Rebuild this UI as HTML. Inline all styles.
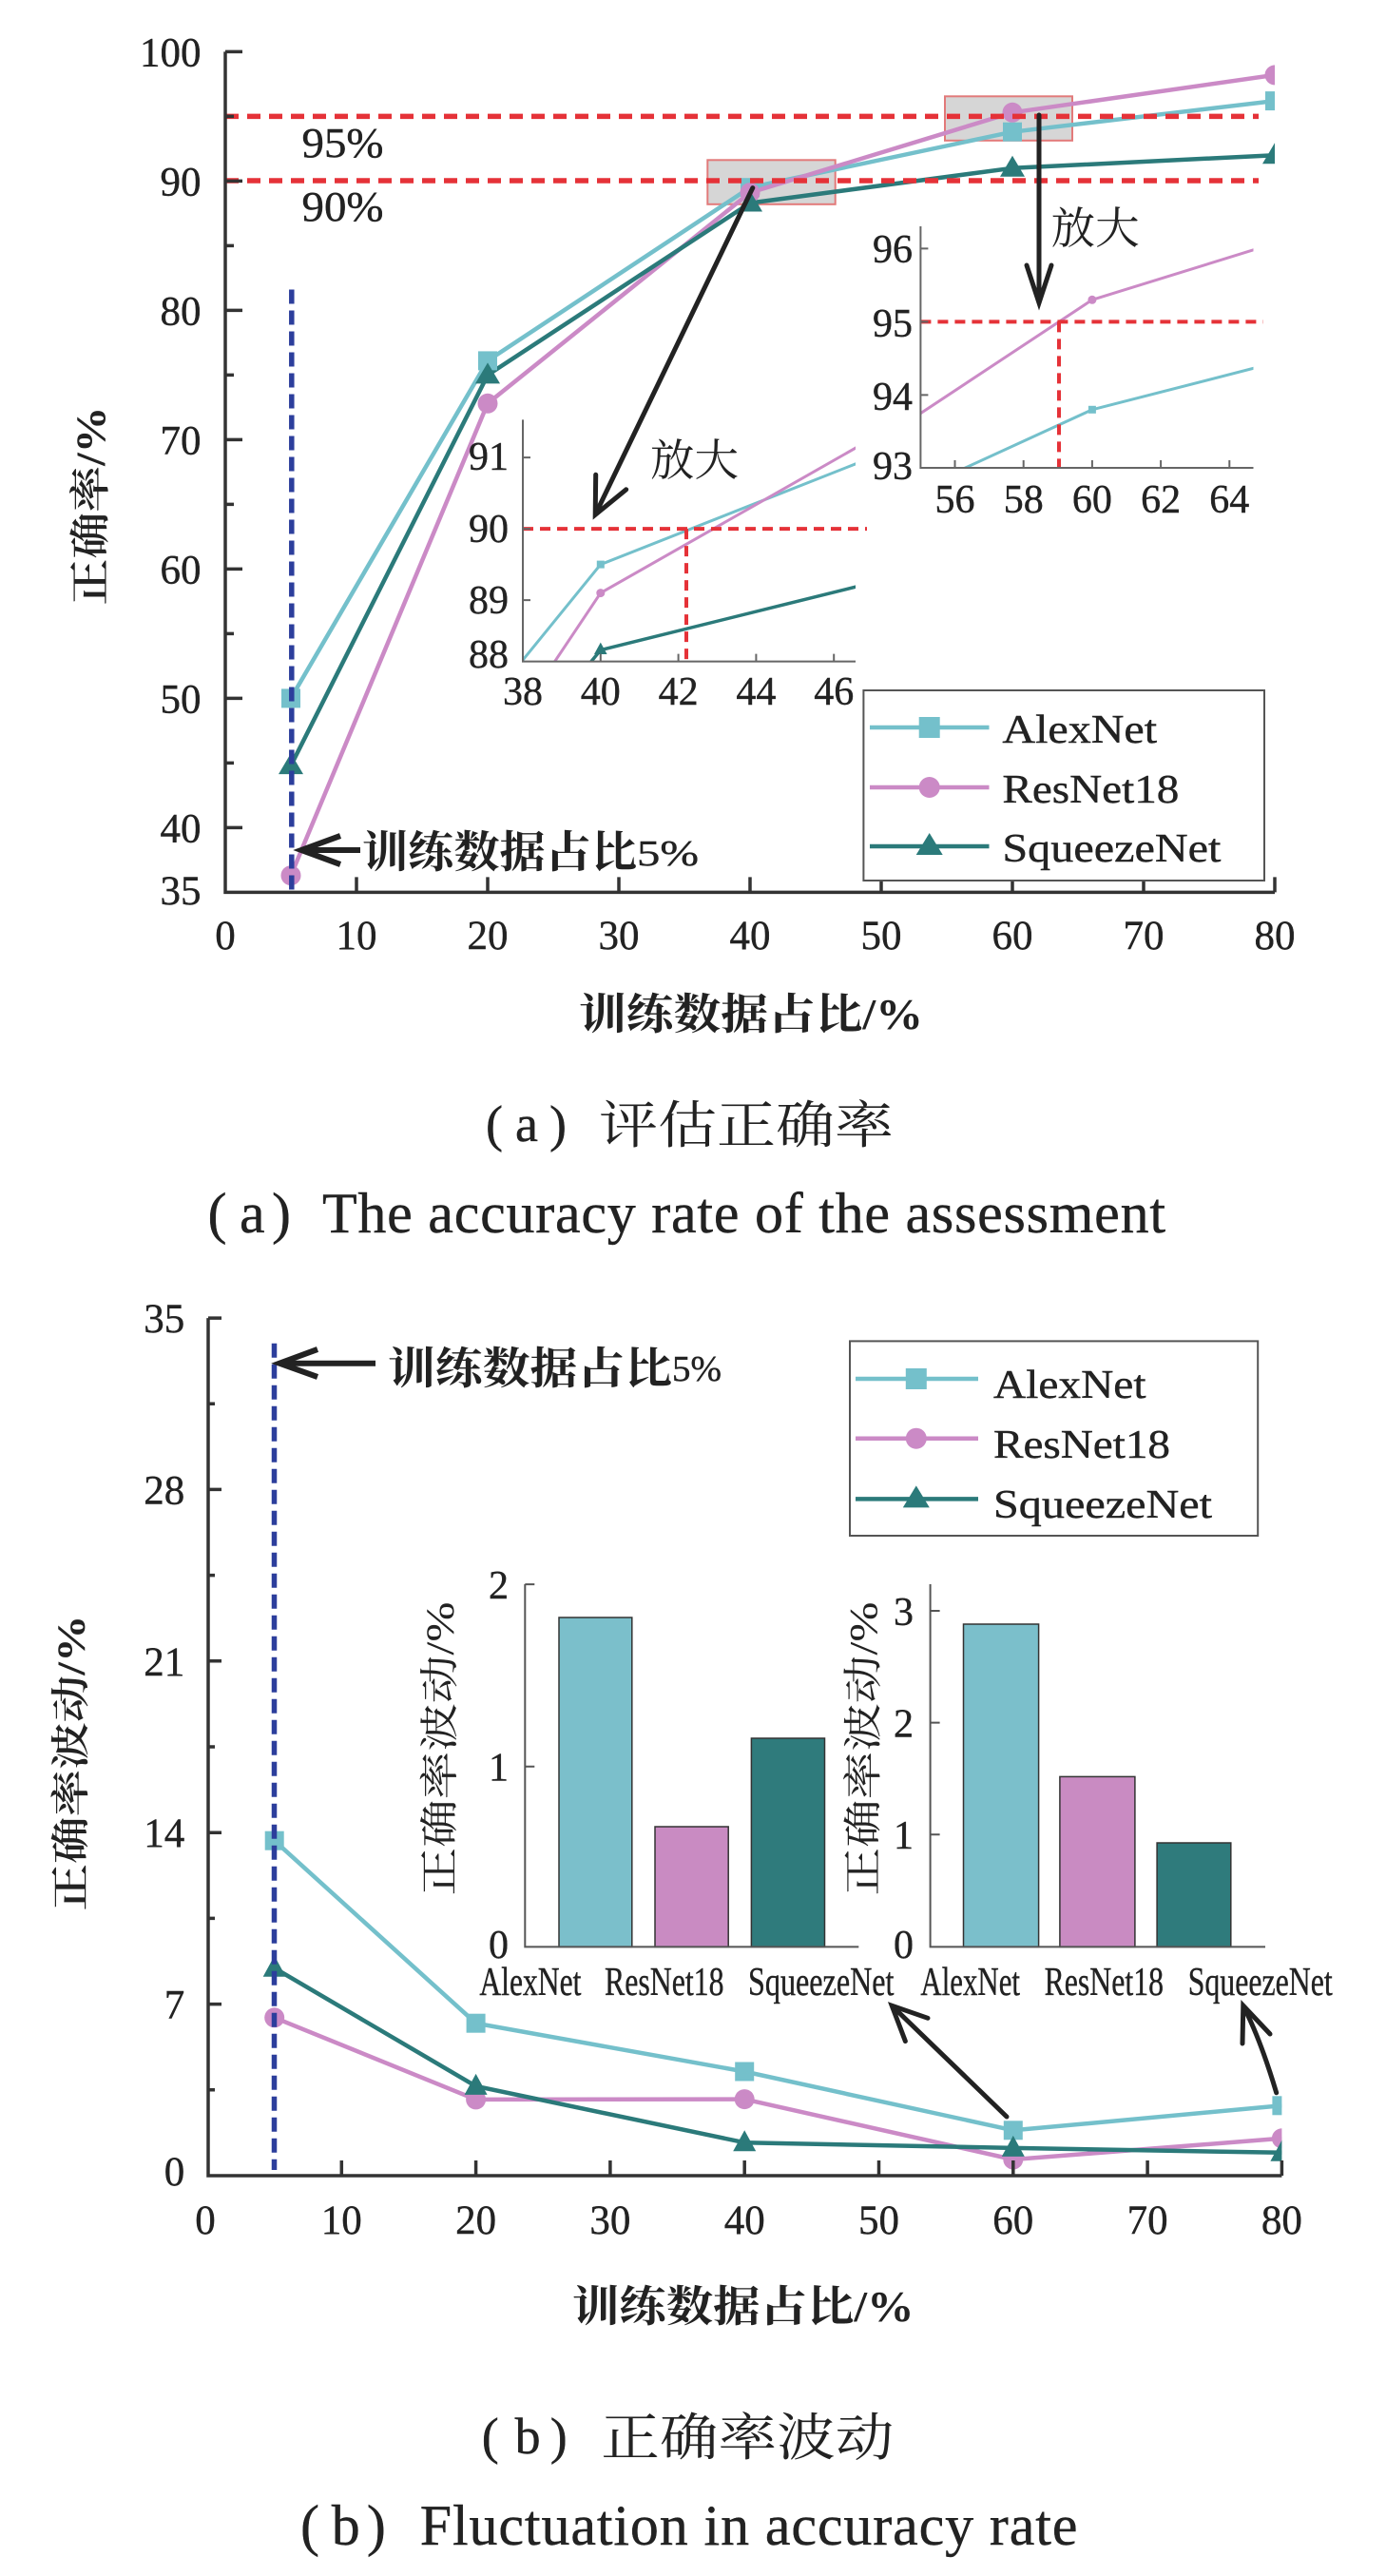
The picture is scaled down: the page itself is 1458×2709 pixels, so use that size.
<!DOCTYPE html>
<html><head><meta charset="utf-8">
<style>
html,body{margin:0;padding:0;background:#fff}
svg{display:block}
.n{font-family:"Liberation Serif",serif;font-size:42px;fill:#222;stroke:#222;stroke-width:0.4}
.cj{font-family:"Liberation Serif","Noto Serif CJK SC",serif;fill:#222}
.bd{font-weight:700}
.mid{text-anchor:middle}
.end{text-anchor:end}
.tk{font-size:43px}
</style></head>
<body>
<svg width="1458" height="2709" viewBox="0 0 1458 2709" xmlns="http://www.w3.org/2000/svg">
<defs>
  <clipPath id="clipA"><rect x="230" y="40" width="1111" height="905"/></clipPath>
  <clipPath id="clipIA"><rect x="550" y="441.4" width="350" height="254.2"/></clipPath>
  <clipPath id="clipIB"><rect x="968.4" y="238" width="350.1" height="254"/></clipPath>
  <clipPath id="clipB"><rect x="210" y="1370" width="1138.4" height="925"/></clipPath>
</defs>
<rect width="1458" height="2709" fill="#fff"/>

<!-- ================= CHART A ================= -->
<rect x="744.3" y="168.3" width="134.4" height="46.5" fill="#d6d6d6" stroke="#e27a7a" stroke-width="2"/>
<rect x="994" y="101.3" width="134" height="46.5" fill="#d6d6d6" stroke="#e27a7a" stroke-width="2"/>

<g clip-path="url(#clipA)" stroke-linejoin="round">
  <polyline fill="none" stroke="#74c0cb" stroke-width="4.5" points="306,734.4 513,379.4 789,197.2 1065,138.7 1341,106.1"/>
  <polyline fill="none" stroke="#cb8ac6" stroke-width="4.5" points="306,920.7 513,424.3 789,202.6 1065,118.3 1341,78.9"/>
  <polyline fill="none" stroke="#2b7a7a" stroke-width="4.5" points="306,805.1 513,394.4 789,213.5 1065,176.8 1341,163.2"/>
  <g fill="#74c0cb">
    <rect x="296" y="724.4" width="20" height="20"/>
    <rect x="503" y="369.4" width="20" height="20"/>
    <rect x="779" y="187.2" width="20" height="20"/>
    <rect x="1055" y="128.7" width="20" height="20"/>
    <rect x="1331" y="96.1" width="20" height="20"/>
  </g>
  <g fill="#cb8ac6">
    <circle cx="306" cy="920.7" r="10.5"/>
    <circle cx="513" cy="424.3" r="10.5"/>
    <circle cx="789" cy="202.6" r="10.5"/>
    <circle cx="1065" cy="118.3" r="10.5"/>
    <circle cx="1341" cy="78.9" r="10.5"/>
  </g>
  <g fill="#2b7a7a">
    <polygon points="306,792.1 293,814.1 319,814.1"/>
    <polygon points="513,381.4 500,403.4 526,403.4"/>
    <polygon points="789,200.5 776,222.5 802,222.5"/>
    <polygon points="1065,163.8 1052,185.8 1078,185.8"/>
    <polygon points="1341,150.2 1328,172.2 1354,172.2"/>
  </g>
</g>

<line x1="237" y1="122.4" x2="1324" y2="122.4" stroke="#e53238" stroke-width="5.5" stroke-dasharray="14 9"/>
<line x1="237" y1="190" x2="1324" y2="190" stroke="#e53238" stroke-width="5.5" stroke-dasharray="14 9"/>
<text class="n" x="317.5" y="165" textLength="86" lengthAdjust="spacingAndGlyphs" style="font-size:44px">95%</text>
<text class="n" x="317.5" y="232" textLength="86" lengthAdjust="spacingAndGlyphs" style="font-size:44px">90%</text>

<line x1="306.8" y1="304.5" x2="306.8" y2="938" stroke="#2c3e9c" stroke-width="5.5" stroke-dasharray="15 7"/>

<path d="M237,54.4 V938.4 H1341" fill="none" stroke="#333" stroke-width="3.5"/>
<path d="M237,54.4 h18 M237,190.4 h18 M237,326.4 h18 M237,462.4 h18 M237,598.4 h18 M237,734.4 h18 M237,870.4 h18
 M237,122.4 h9 M237,258.4 h9 M237,394.4 h9 M237,530.4 h9 M237,666.4 h9 M237,802.4 h9
 M375,938.4 v-16 M513,938.4 v-16 M651,938.4 v-16 M789,938.4 v-16 M927,938.4 v-16 M1065,938.4 v-16 M1203,938.4 v-16 M1341,938.4 v-16" stroke="#333" stroke-width="3.5" fill="none"/>
<g class="n end tk">
  <text x="211.5" y="69.4">100</text>
  <text x="211.5" y="205.4">90</text>
  <text x="211.5" y="341.4">80</text>
  <text x="211.5" y="477.4">70</text>
  <text x="211.5" y="613.4">60</text>
  <text x="211.5" y="749.4">50</text>
  <text x="211.5" y="885.4">40</text>
  <text x="211.5" y="951">35</text>
</g>
<g class="n mid tk">
  <text x="237" y="998">0</text>
  <text x="375" y="998">10</text>
  <text x="513" y="998">20</text>
  <text x="651" y="998">30</text>
  <text x="789" y="998">40</text>
  <text x="927" y="998">50</text>
  <text x="1065" y="998">60</text>
  <text x="1203" y="998">70</text>
  <text x="1341" y="998">80</text>
</g>
<text class="cj bd" x="609" y="1082" textLength="362" lengthAdjust="spacingAndGlyphs" style="font-size:45px">训练数据占比/%</text>
<text class="cj mid" transform="translate(95,532) rotate(-90)" x="0" y="15" textLength="209" lengthAdjust="spacingAndGlyphs" style="font-size:43px;font-weight:600">正确率/%</text>

<!-- Inset A -->
<g clip-path="url(#clipIA)" fill="none" stroke-linejoin="round">
  <polyline stroke="#74c0cb" stroke-width="3" points="-186.2,1598.6 631.8,593.6 1449.8,271.1"/>
  <polyline stroke="#cb8ac6" stroke-width="3" points="-186.2,1846.1 631.8,623.6 1449.8,158.6"/>
  <polyline stroke="#2b7a7a" stroke-width="3.5" points="-186.2,1681.1 631.8,683.6 1449.8,481.1"/>
</g>
<rect x="627.8" y="589.6" width="8" height="8" fill="#74c0cb"/>
<circle cx="631.8" cy="623.6" r="4.5" fill="#cb8ac6"/>
<polygon points="631.8,675.6 625,688 638.6,688" fill="#2b7a7a"/>
<line x1="550" y1="556.1" x2="912" y2="556.1" stroke="#e53238" stroke-width="4" stroke-dasharray="11 7"/>
<line x1="722" y1="556.1" x2="722" y2="695" stroke="#e53238" stroke-width="4" stroke-dasharray="11 7"/>
<path d="M550,441.4 V695.6 H900 M550,481.1 h8 M550,556.1 h8 M550,631.1 h8 M631.8,695.6 v-8 M713.6,695.6 v-8 M795.4,695.6 v-8 M877.2,695.6 v-8" fill="none" stroke="#666" stroke-width="2"/>
<g class="n end">
  <text x="535" y="494">91</text>
  <text x="535" y="570">90</text>
  <text x="535" y="645">89</text>
  <text x="535" y="702">88</text>
</g>
<g class="n mid">
  <text x="550" y="741">38</text>
  <text x="631.8" y="741">40</text>
  <text x="713.6" y="741">42</text>
  <text x="795.4" y="741">44</text>
  <text x="877.2" y="741">46</text>
</g>
<text class="cj" x="684" y="500" textLength="93" lengthAdjust="spacingAndGlyphs" style="font-size:46px">放大</text>

<!-- Inset B -->
<g clip-path="url(#clipIB)" fill="none" stroke-linejoin="round">
  <polyline stroke="#cb8ac6" stroke-width="3" points="426.9,792.7 1148.9,315.3 1870.4,92"/>
  <polyline stroke="#74c0cb" stroke-width="3" points="426.9,761.9 1148.9,430.8 1870.4,246"/>
</g>
<circle cx="1148.9" cy="315.3" r="4.5" fill="#cb8ac6"/>
<rect x="1144.9" y="426.8" width="8" height="8" fill="#74c0cb"/>
<line x1="968.4" y1="338.4" x2="1328.7" y2="338.4" stroke="#e53238" stroke-width="4" stroke-dasharray="11 7"/>
<line x1="1114" y1="338.4" x2="1114" y2="492" stroke="#e53238" stroke-width="4" stroke-dasharray="11 7"/>
<path d="M968.4,238 V492 H1318.5 M968.4,261.4 h8 M968.4,338.4 h8 M968.4,415.4 h8 M1004.5,492 v-8 M1076.7,492 v-8 M1148.9,492 v-8 M1221.1,492 v-8 M1293.3,492 v-8" fill="none" stroke="#666" stroke-width="2"/>
<g class="n end">
  <text x="960" y="276">96</text>
  <text x="960" y="354">95</text>
  <text x="960" y="431">94</text>
  <text x="960" y="504">93</text>
</g>
<g class="n mid">
  <text x="1004.5" y="539">56</text>
  <text x="1076.7" y="539">58</text>
  <text x="1148.9" y="539">60</text>
  <text x="1221.1" y="539">62</text>
  <text x="1293.3" y="539">64</text>
</g>
<text class="cj" x="1105.6" y="256" textLength="93" lengthAdjust="spacingAndGlyphs" style="font-size:46px">放大</text>

<!-- arrows A -->
<g stroke="#222" fill="none" stroke-width="5" stroke-linecap="round" stroke-linejoin="miter">
  <line x1="791.8" y1="197.6" x2="627" y2="539.5"/>
  <polyline points="658.7,514.8 626.2,541.3 626.7,499.3"/>
  <line x1="1093" y1="121" x2="1093" y2="315"/>
  <polyline points="1080,279 1093,318.5 1106,279"/>
</g>
<g stroke="#222" fill="none" stroke-width="6" stroke-linecap="butt">
  <line x1="318" y1="894" x2="379" y2="894"/>
  <polyline points="358,879 317,894 358,909"/>
</g>
<text class="cj bd" x="381" y="912" textLength="289" lengthAdjust="spacingAndGlyphs" style="font-size:46px">训练数据占比</text>
<text class="n" x="670" y="910" textLength="65" lengthAdjust="spacingAndGlyphs" style="font-size:38px">5%</text>

<!-- legend A -->
<rect x="908.4" y="726" width="421.6" height="200" fill="#fff" stroke="#555" stroke-width="2"/>
<line x1="915" y1="765" x2="1040.5" y2="765" stroke="#74c0cb" stroke-width="4.5"/>
<rect x="966.7" y="754" width="22" height="22" fill="#74c0cb"/>
<line x1="915" y1="828" x2="1040.5" y2="828" stroke="#cb8ac6" stroke-width="4.5"/>
<circle cx="977.7" cy="828" r="11" fill="#cb8ac6"/>
<line x1="915" y1="890" x2="1040.5" y2="890" stroke="#2b7a7a" stroke-width="4.5"/>
<polygon points="977.7,876 963.7,899 991.7,899" fill="#2b7a7a"/>
<text class="n" x="1054.4" y="781" textLength="162.7" lengthAdjust="spacingAndGlyphs">AlexNet</text>
<text class="n" x="1054.4" y="844" textLength="186" lengthAdjust="spacingAndGlyphs">ResNet18</text>
<text class="n" x="1054.4" y="906" textLength="230" lengthAdjust="spacingAndGlyphs">SqueezeNet</text>

<!-- captions A -->
<text class="n" x="511" y="1200" style="font-size:54px">(</text>
<text class="n" x="542" y="1200" style="font-size:54px">a</text>
<text class="n" x="578" y="1200" style="font-size:54px">)</text>
<text class="cj" x="630" y="1202" textLength="310" lengthAdjust="spacingAndGlyphs" style="font-size:54px">评估正确率</text>
<text class="n" x="218.5" y="1296" style="font-size:60px">(</text>
<text class="n" x="252" y="1296" style="font-size:60px">a</text>
<text class="n" x="286" y="1296" style="font-size:60px">)</text>
<text class="n" x="339" y="1296" textLength="887" lengthAdjust="spacing" style="font-size:60px">The accuracy rate of the assessment</text>

<!-- ================= CHART B ================= -->
<g clip-path="url(#clipB)" stroke-linejoin="round">
  <polyline fill="none" stroke="#74c0cb" stroke-width="4.5" points="288.7,1935.7 500.6,2127.7 783.2,2178.5 1065.8,2240.3 1348.4,2214.3"/>
  <polyline fill="none" stroke="#cb8ac6" stroke-width="4.5" points="288.7,2121.8 500.6,2207.9 783.2,2207.6 1065.8,2271 1348.4,2248.8"/>
  <polyline fill="none" stroke="#2b7a7a" stroke-width="4.5" points="288.7,2069.7 500.6,2193.9 783.2,2253.2 1065.8,2258.9 1348.4,2263.8"/>
  <g fill="#74c0cb">
    <rect x="278.7" y="1925.7" width="20" height="20"/>
    <rect x="490.6" y="2117.7" width="20" height="20"/>
    <rect x="773.2" y="2168.5" width="20" height="20"/>
    <rect x="1055.8" y="2230.3" width="20" height="20"/>
    <rect x="1338.4" y="2204.3" width="20" height="20"/>
  </g>
  <g fill="#cb8ac6">
    <circle cx="288.7" cy="2121.8" r="10.5"/>
    <circle cx="500.6" cy="2207.9" r="10.5"/>
    <circle cx="783.2" cy="2207.6" r="10.5"/>
    <circle cx="1065.8" cy="2271" r="10.5"/>
    <circle cx="1348.4" cy="2248.8" r="10.5"/>
  </g>
  <g fill="#2b7a7a">
    <polygon points="288.7,2056.7 276.7,2078.7 300.7,2078.7"/>
    <polygon points="500.6,2180.9 488.6,2202.9 512.6,2202.9"/>
    <polygon points="783.2,2240.2 771.2,2262.2 795.2,2262.2"/>
    <polygon points="1065.8,2245.9 1053.8,2267.9 1077.8,2267.9"/>
    <polygon points="1348.4,2250.8 1336.4,2272.8 1360.4,2272.8"/>
  </g>
</g>
<line x1="288.5" y1="1412.8" x2="288.5" y2="2282" stroke="#2c3e9c" stroke-width="5.5" stroke-dasharray="15 7"/>

<path d="M219,1386.1 V2288 H1348.4" fill="none" stroke="#333" stroke-width="3.5"/>
<path d="M219,1386.1 h14 M219,1566.4 h14 M219,1746.8 h14 M219,1927.2 h14 M219,2107.6 h14
 M219,1476.3 h7 M219,1656.6 h7 M219,1837 h7 M219,2017.4 h7 M219,2197.8 h7
 M359.3,2288 v-16 M500.6,2288 v-16 M641.9,2288 v-16 M783.2,2288 v-16 M924.5,2288 v-16 M1065.8,2288 v-16 M1207.1,2288 v-16 M1348.4,2288 v-16" fill="none" stroke="#333" stroke-width="3.5"/>
<g class="n end tk">
  <text x="194.3" y="1401">35</text>
  <text x="194.3" y="1581.4">28</text>
  <text x="194.3" y="1761.8">21</text>
  <text x="194.3" y="1942.2">14</text>
  <text x="194.3" y="2122.6">7</text>
  <text x="194.3" y="2298">0</text>
</g>
<g class="n mid tk">
  <text x="216" y="2349">0</text>
  <text x="359.3" y="2349">10</text>
  <text x="500.6" y="2349">20</text>
  <text x="641.9" y="2349">30</text>
  <text x="783.2" y="2349">40</text>
  <text x="924.5" y="2349">50</text>
  <text x="1065.8" y="2349">60</text>
  <text x="1207.1" y="2349">70</text>
  <text x="1348.4" y="2349">80</text>
</g>
<text class="cj bd" x="602" y="2441" textLength="359.5" lengthAdjust="spacingAndGlyphs" style="font-size:45px">训练数据占比/%</text>
<text class="cj mid" transform="translate(74.4,1854) rotate(-90)" x="0" y="14" textLength="311" lengthAdjust="spacingAndGlyphs" style="font-size:41px;font-weight:600">正确率波动/%</text>

<g stroke="#222" fill="none" stroke-width="6">
  <line x1="295" y1="1433.7" x2="395" y2="1433.7"/>
  <polyline points="334,1419 294,1433.7 334,1448"/>
</g>
<text class="cj bd" x="408" y="1455" textLength="299" lengthAdjust="spacingAndGlyphs" style="font-size:46px">训练数据占比</text>
<text class="n" x="707" y="1452" textLength="52" lengthAdjust="spacingAndGlyphs" style="font-size:38px">5%</text>

<!-- legend B -->
<rect x="894" y="1410.4" width="429.2" height="204.6" fill="#fff" stroke="#555" stroke-width="2"/>
<line x1="900" y1="1450" x2="1029" y2="1450" stroke="#74c0cb" stroke-width="4.5"/>
<rect x="952.8" y="1439" width="22" height="22" fill="#74c0cb"/>
<line x1="900" y1="1512.7" x2="1029" y2="1512.7" stroke="#cb8ac6" stroke-width="4.5"/>
<circle cx="963.8" cy="1512.7" r="11" fill="#cb8ac6"/>
<line x1="900" y1="1576.4" x2="1029" y2="1576.4" stroke="#2b7a7a" stroke-width="4.5"/>
<polygon points="963.8,1562.4 949.8,1585.4 977.8,1585.4" fill="#2b7a7a"/>
<text class="n" x="1045" y="1470" textLength="160.5" lengthAdjust="spacingAndGlyphs">AlexNet</text>
<text class="n" x="1045" y="1533" textLength="186" lengthAdjust="spacingAndGlyphs">ResNet18</text>
<text class="n" x="1045" y="1596" textLength="230" lengthAdjust="spacingAndGlyphs">SqueezeNet</text>

<!-- Bar inset 1 -->
<g stroke="#333" stroke-width="1.5">
  <rect x="588" y="1701" width="76.8" height="346.4" fill="#7bbfcb"/>
  <rect x="689" y="1921" width="77.2" height="126.4" fill="#c98bc2"/>
  <rect x="790.4" y="1828" width="77.1" height="219.4" fill="#2f7b7c"/>
</g>
<path d="M552.3,1666 V2047.4 H903.3 M552.3,1666.1 h10 M552.3,1857.7 h10" fill="none" stroke="#555" stroke-width="2"/>
<g class="n end">
  <text x="535" y="1681">2</text>
  <text x="535" y="1872.7">1</text>
  <text x="535" y="2059">0</text>
</g>
<text class="n" x="504.4" y="2098" textLength="107" lengthAdjust="spacingAndGlyphs">AlexNet</text>
<text class="n" x="636" y="2098" textLength="125.5" lengthAdjust="spacingAndGlyphs">ResNet18</text>
<text class="n" x="787" y="2098" textLength="153.5" lengthAdjust="spacingAndGlyphs">SqueezeNet</text>
<text class="cj mid" transform="translate(462.6,1839) rotate(-90)" x="0" y="14" textLength="309" lengthAdjust="spacingAndGlyphs" style="font-size:41px">正确率波动/%</text>

<!-- Bar inset 2 -->
<g stroke="#333" stroke-width="1.5">
  <rect x="1013.5" y="1708" width="79.1" height="339.4" fill="#7bbfcb"/>
  <rect x="1114.9" y="1868.4" width="79" height="179" fill="#c98bc2"/>
  <rect x="1217.1" y="1938" width="77.7" height="109.4" fill="#2f7b7c"/>
</g>
<path d="M978.6,1666 V2047.4 H1331 M978.6,1694 h10 M978.6,1811.6 h10 M978.6,1929.3 h10" fill="none" stroke="#555" stroke-width="2"/>
<g class="n end">
  <text x="961" y="1709">3</text>
  <text x="961" y="1826.6">2</text>
  <text x="961" y="1944">1</text>
  <text x="961" y="2059">0</text>
</g>
<text class="n" x="968.4" y="2098" textLength="104.6" lengthAdjust="spacingAndGlyphs">AlexNet</text>
<text class="n" x="1098.6" y="2098" textLength="125.4" lengthAdjust="spacingAndGlyphs">ResNet18</text>
<text class="n" x="1249.7" y="2098" textLength="152" lengthAdjust="spacingAndGlyphs">SqueezeNet</text>
<text class="cj mid" transform="translate(908,1839) rotate(-90)" x="0" y="14" textLength="309" lengthAdjust="spacingAndGlyphs" style="font-size:41px">正确率波动/%</text>

<!-- arrows B -->
<g stroke="#222" fill="none" stroke-width="5" stroke-linecap="round">
  <line x1="1059" y1="2226" x2="940" y2="2111"/>
  <polyline points="952.4,2146.6 938.2,2109.2 976,2122.3"/>
  <path d="M1342.7,2200.8 Q1326,2145 1309,2112"/>
  <polyline points="1307,2149 1307.8,2109.2 1336,2139"/>
</g>

<!-- captions B -->
<text class="n" x="506.7" y="2580" style="font-size:54px">(</text>
<text class="n" x="541.6" y="2580" style="font-size:54px">b</text>
<text class="n" x="578.8" y="2580" style="font-size:54px">)</text>
<text class="cj" x="632.3" y="2582" textLength="308" lengthAdjust="spacingAndGlyphs" style="font-size:54px">正确率波动</text>
<text class="n" x="316" y="2676" style="font-size:60px">(</text>
<text class="n" x="348.7" y="2676" style="font-size:60px">b</text>
<text class="n" x="385.9" y="2676" style="font-size:60px">)</text>
<text class="n" x="441.7" y="2676" textLength="691.8" lengthAdjust="spacing" style="font-size:60px">Fluctuation in accuracy rate</text>
</svg>
</body></html>
